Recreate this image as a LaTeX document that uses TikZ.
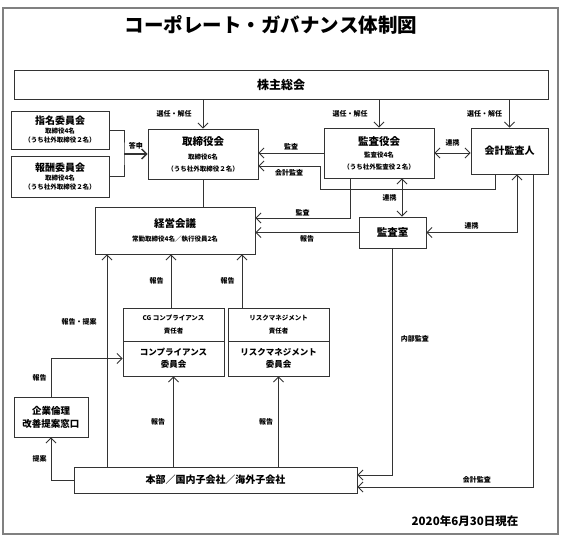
\documentclass[tikz,border=0pt]{standalone}
\usepackage{fontspec}
\setmainfont{Noto Sans CJK JP}
\usepackage{tikz}
\usetikzlibrary{arrows.meta}

\begin{document}
\begin{tikzpicture}[
    x=1pt, y=-1pt,
    box/.style={draw=black!80, line width=0.9pt, align=center, inner sep=0pt, font=\fontsize{10.5}{13}\selectfont\bfseries},
    lbl/.style={font=\fontsize{7}{8}\selectfont\bfseries, inner sep=1pt},
    arr/.style={draw=black!80, line width=0.8pt, -{Straight Barb[length=5pt,width=10pt]}},
    dbl/.style={draw=black!80, line width=0.8pt, {Straight Barb[length=5pt,width=10pt]}-{Straight Barb[length=5pt,width=10pt]}},
    ln/.style={draw=black!80, line width=0.8pt}
]
    \useasboundingbox (0,0) rectangle (571,541);
    \draw[black!50, line width=1.5pt] (3,8) rectangle (558,534);
    \node[font=\fontsize{19.5}{22}\selectfont\bfseries] (title) at (271,25) {コーポレート・ガバナンス体制図};

    \node[box, minimum width=534pt, minimum height=29pt, font=\fontsize{12}{14}\selectfont\bfseries] (soukai) at (281,84.5) {株主総会};
    \node[box, minimum width=110pt, minimum height=50pt] (torishimari) at (203,154) {取締役会\\[1pt]{\fontsize{6.5}{8}\selectfont 取締役6名}\\[-1pt]{\fontsize{6.5}{8}\selectfont （うち社外取締役２名）}};
    \node[box, minimum width=98pt, minimum height=38pt, font=\fontsize{10}{11}\selectfont\bfseries] (shimei) at (60,130) {指名委員会\\[-2pt]{\fontsize{6.5}{8}\selectfont 取締役4名}\\[-2pt]{\fontsize{6.5}{8}\selectfont （うち社外取締役２名）}};
    \node[box, minimum width=98pt, minimum height=41pt, font=\fontsize{10}{11}\selectfont\bfseries] (houshu) at (60,176.5) {報酬委員会\\[-2pt]{\fontsize{6.5}{8}\selectfont 取締役4名}\\[-2pt]{\fontsize{6.5}{8}\selectfont （うち社外取締役２名）}};
    \node[box, minimum width=110pt, minimum height=50pt] (kansayaku) at (379,153) {監査役会\\[-1pt]{\fontsize{6.5}{8}\selectfont 監査役4名}\\[-1pt]{\fontsize{6.5}{8}\selectfont （うち社外監査役２名）}};
    \node[box, minimum width=77pt, minimum height=46pt, font=\fontsize{10}{12}\selectfont\bfseries] (kaikei) at (509.5,151) {会計監査人};
    \node[box, minimum width=160pt, minimum height=47pt] (keiei) at (175,230.5) {経営会議\\[1pt]{\fontsize{6.5}{8}\selectfont 常勤取締役4名／執行役員2名}};
    \node[box, minimum width=67pt, minimum height=31pt] (kansashitsu) at (392.5,232.5) {監査室};
    \node[box, minimum width=101pt, minimum height=33pt, font=\fontsize{6.5}{13}\selectfont\bfseries] (cgsekinin) at (173.5,324.5) {CG コンプライアンス\\責任者};
    \node[box, minimum width=101pt, minimum height=35pt, font=\fontsize{8.5}{12}\selectfont\bfseries] (cgiinkai) at (173.5,358.5) {コンプライアンス\\委員会};
    \node[box, minimum width=101pt, minimum height=33pt, font=\fontsize{6.5}{13}\selectfont\bfseries] (risksekinin) at (278.5,324.5) {リスクマネジメント\\責任者};
    \node[box, minimum width=101pt, minimum height=35pt, font=\fontsize{8.5}{12}\selectfont\bfseries] (riskiinkai) at (278.5,358.5) {リスクマネジメント\\委員会};
    \node[box, minimum width=74pt, minimum height=40pt, font=\fontsize{9.5}{13}\selectfont\bfseries] (rinri) at (51,417) {企業倫理\\改善提案窓口};
    \node[box, minimum width=283pt, minimum height=26pt, font=\fontsize{10}{12}\selectfont\bfseries] (honbu) at (215.5,480) {本部／国内子会社／海外子会社};
    \node[font=\fontsize{11.5}{13}\selectfont\bfseries] (date) at (465,521) {2020年6月30日現在};
    \coordinate (toushin) at (124,154);
    \coordinate (kk) at (320,189);

    \draw[arr] (torishimari.north |- soukai.south) -- (torishimari.north) node[lbl, midway, left=10pt] {選任・解任};
    \draw[arr] (kansayaku.north |- soukai.south) -- (kansayaku.north) node[lbl, midway, left=10pt] {選任・解任};
    \draw[arr] (kaikei.north |- soukai.south) -- (kaikei.north) node[lbl, midway, left=6pt] {選任・解任};
    \draw[ln] (shimei.east) -| (toushin) |- (houshu.east);
    \draw[arr, line width=1.3pt] (toushin) -- (torishimari.west) node[lbl, midway, above=3pt] {答申};
    \draw[ln] (torishimari.south) -- (torishimari.south |- keiei.north);
    \draw[arr] (kansayaku.west) -- (kansayaku.west -| torishimari.east) node[lbl, midway, above=2pt] {監査};
    \draw[arr] ([xshift=-14.5pt]kaikei.south) |- (kk) |- ([yshift=-12pt]torishimari.east) node[lbl, pos=.75, below=2pt] {会計監査};
    \draw[dbl] (kansayaku.east) -- (kansayaku.east -| kaikei.west) node[lbl, midway, above=5pt] {連携};
    \draw[dbl] ([xshift=23pt]kansayaku.south) -- ([xshift=23pt]kansayaku.south |- kansashitsu.north) node[lbl, midway, left=4pt] {連携};
    \draw[arr] ([xshift=-29pt]kansayaku.south) |- ([yshift=12.5pt]keiei.east) node[lbl, pos=.75, above=1pt] {監査};
    \draw[arr] (kansashitsu.west) -- (kansashitsu.west -| keiei.east) node[lbl, midway, below=2pt] {報告};
    \draw[dbl] ([xshift=7.5pt]kaikei.south) |- (kansashitsu.east) node[lbl, pos=.75, above=2pt] {連携};
    \draw[arr] ([xshift=23.5pt]kaikei.south) |- ([yshift=-7pt]honbu.east) node[lbl, pos=.66, above=2pt] {会計監査};
    \draw[arr] (kansashitsu.south) |- ([yshift=5pt]honbu.east) node[lbl, pos=.2, right=7pt] {内部監査};
    \draw[arr] ([xshift=-2.5pt]cgsekinin.north) -- ([xshift=-2.5pt]cgsekinin.north |- keiei.south) node[lbl, midway, left=6pt] {報告};
    \draw[arr] ([xshift=-36.5pt]risksekinin.north) -- ([xshift=-36.5pt]risksekinin.north |- keiei.south) node[lbl, midway, left=6pt] {報告};
    \draw[arr] ([xshift=-108.5pt]honbu.north) -- ([xshift=-108.5pt]honbu.north |- keiei.south) node[lbl, pos=.68, left=9pt] {報告・提案};
    \draw[arr] (rinri.north) |- (cgiinkai.west) node[lbl, pos=.25, left=3pt] {報告};
    \draw[arr] (honbu.west) -| (rinri.south) node[lbl, pos=.75, left=3pt] {提案};
    \draw[arr] (honbu.north -| cgiinkai.south) -- (cgiinkai.south) node[lbl, midway, left=7pt] {報告};
    \draw[arr] (honbu.north -| riskiinkai.south) -- (riskiinkai.south) node[lbl, midway, left=4pt] {報告};
\end{tikzpicture}
\end{document}
